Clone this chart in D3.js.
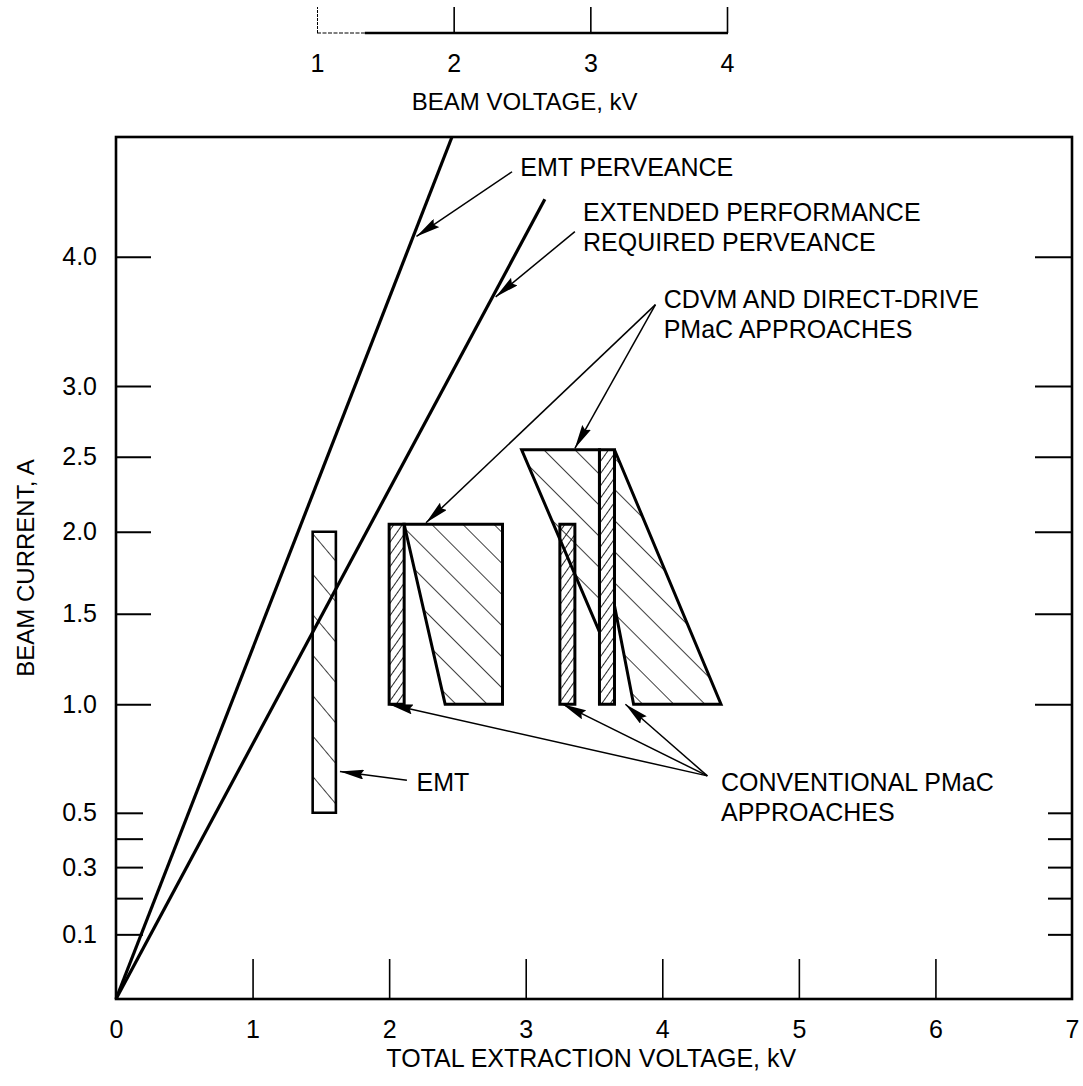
<!DOCTYPE html>
<html>
<head>
<meta charset="utf-8">
<script src="https://cdn.jsdelivr.net/npm/d3@7"></script>
<style>
  body { margin: 0; background: #fff; }
  svg { display: block; }
  text { font-family: "Liberation Sans", Arial, Helvetica, sans-serif; fill: #000; }
</style>
</head>
<body>
<svg id="chart" width="1083" height="1086"></svg>
<script>
// ---- axis definitions ----
const extractionTicks = [0, 1, 2, 3, 4, 5, 6, 7];           // total extraction voltage, kV
const beamVoltageTicks = [1, 2, 3, 4];                       // beam voltage, kV
const currentTicks = [0.1, 0.3, 0.5, 1.0, 1.5, 2.0, 2.5, 3.0, 4.0];   // beam current, A
const currentMinorTicks = [0.2, 0.4];
// the current axis is hand ruled: value stops and their fraction of the plot height
const currentStops    = [0, 0.1, 0.2, 0.3, 0.4, 0.5, 1.0, 1.5, 2.0, 2.5, 3.0, 4.0, 5.0];
const currentStopFrac = [0, 0.075, 0.117, 0.153, 0.186, 0.216, 0.342, 0.447, 0.542, 0.629, 0.711, 0.861, 1.0];

// ---- perveance lines (kV, A) ----
const emtPerveance      = [[0, 0], [2.46, 5.0]];
const extendedPerveance = [[0, 0], [3.14, 4.48]];

// ---- operating regions (kV, A) ----
const emtBand = [[1.44, 0.5], [1.61, 0.5], [1.61, 2.0], [1.44, 2.0]];
const conventionalBands = [
  [[2.00, 1.0], [2.11, 1.0], [2.11, 2.05], [2.00, 2.05]],
  [[3.25, 1.0], [3.36, 1.0], [3.36, 2.05], [3.25, 2.05]],
  [[3.54, 1.0], [3.65, 1.0], [3.65, 2.55], [3.54, 2.55]]
];
const cdvmRegions = [
  [[2.11, 2.05], [2.83, 2.05], [2.83, 1.0], [2.41, 1.0]],
  [[2.97, 2.55], [3.54, 2.55], [3.54, 1.40]],
  [[3.65, 2.55], [4.43, 1.0], [3.79, 1.0], [3.65, 1.55]]
];

// ---- annotations (kV, A) ----
const notes = [
  { lines: ["EMT PERVEANCE"], at: [2.96, 4.75], arrows: [[[2.90, 4.71], [2.20, 4.17]]] },
  { lines: ["EXTENDED PERFORMANCE", "REQUIRED PERVEANCE"], at: [3.42, 4.37],
    arrows: [[[3.36, 4.21], [2.78, 3.69]]] },
  { lines: ["CDVM AND DIRECT-DRIVE", "PMaC APPROACHES"], at: [4.01, 3.67],
    arrows: [[[3.95, 3.63], [2.27, 2.06]], [[3.95, 3.63], [3.36, 2.56]]] },
  { lines: ["EMT"], at: [2.20, 0.64], arrows: [[[2.13, 0.65], [1.64, 0.69]]] },
  { lines: ["CONVENTIONAL PMaC", "APPROACHES"], at: [4.43, 0.64],
    arrows: [[[4.33, 0.67], [2.00, 1.0]], [[4.33, 0.67], [3.27, 1.0]], [[4.33, 0.67], [3.73, 1.0]]] }
];

// ---- layout ----
const plot = { left: 116, right: 1072, top: 137, bottom: 999 };
const svg = d3.select("#chart");
const FONT = 25;

const x = d3.scaleLinear().domain([0, 7]).range([plot.left, plot.right]);
const y = d3.scaleLinear()
  .domain(currentStops)
  .range(currentStopFrac.map(f => plot.bottom - f * (plot.bottom - plot.top)));
const beam = d3.scaleLinear().domain([1, 4]).range([317, 727]);

const px = p => [x(p[0]), y(p[1])];

// hatch patterns
const defs = svg.append("defs");
function hatch(id, spacing, angle, width) {
  const p = defs.append("pattern").attr("id", id)
    .attr("patternUnits", "userSpaceOnUse")
    .attr("width", spacing).attr("height", spacing)
    .attr("patternTransform", `rotate(${angle})`);
  p.append("line").attr("x1", 0).attr("y1", 0).attr("x2", 0).attr("y2", spacing)
    .attr("stroke", "#000").attr("stroke-width", width);
}
hatch("wide", 22, -45, 1.5);
hatch("dense", 7, 35, 1.7);
hatch("emt", 26, -40, 1.5);

defs.append("marker").attr("id", "head")
  .attr("viewBox", "0 0 24 10").attr("refX", 24).attr("refY", 5)
  .attr("markerWidth", 24).attr("markerHeight", 10)
  .attr("markerUnits", "userSpaceOnUse").attr("orient", "auto")
  .append("path").attr("d", "M0,0 L24,5 L0,10 L3,5 Z").attr("fill", "#000");

// ---- frame ----
svg.append("rect")
  .attr("x", x(0)).attr("y", y(5)).attr("width", x(7) - x(0)).attr("height", y(0) - y(5))
  .attr("fill", "none").attr("stroke", "#000").attr("stroke-width", 2.6);

// bottom axis: ticks point into the plot
const xAxis = svg.append("g").attr("transform", `translate(0,${plot.bottom})`)
  .call(d3.axisBottom(x).tickValues(extractionTicks).tickSize(-40).tickSizeOuter(0)
    .tickPadding(21).tickFormat(d3.format("d")));
xAxis.select(".domain").remove();
xAxis.selectAll(".tick line").attr("stroke", "#000").attr("stroke-width", 1.6)
  .attr("display", d => (d === 0 || d === 7) ? "none" : null);
xAxis.selectAll(".tick text").style("font-size", FONT + "px").attr("font-family", null);
svg.append("text").attr("x", x(3.48)).attr("y", 1058).attr("dy", "0.35em")
  .attr("text-anchor", "middle").style("font-size", FONT + "px")
  .text("TOTAL EXTRACTION VOLTAGE, kV");

// left axis
const yAxis = svg.append("g").attr("transform", `translate(${plot.left},0)`)
  .call(d3.axisLeft(y).tickValues(currentTicks.concat(currentMinorTicks)).tickSize(-35)
    .tickSizeOuter(0).tickPadding(19).tickFormat(d => currentMinorTicks.includes(d) ? "" : d3.format(".1f")(d)));
yAxis.select(".domain").remove();
yAxis.selectAll(".tick line").attr("stroke", "#000").attr("stroke-width", 2)
  .attr("x2", d => d <= 0.5 ? 27 : 35);
yAxis.selectAll(".tick text").style("font-size", FONT + "px").attr("font-family", null);

// right-side ticks mirror the left ones
const yRight = svg.append("g").attr("transform", `translate(${plot.right},0)`)
  .call(d3.axisRight(y).tickValues(currentTicks.concat(currentMinorTicks)).tickSize(-37)
    .tickSizeOuter(0).tickFormat(""));
yRight.select(".domain").remove();
yRight.selectAll(".tick line").attr("stroke", "#000").attr("stroke-width", 2)
  .attr("x2", d => d <= 0.5 ? -24 : -37);

svg.append("text")
  .attr("transform", `translate(26,${(plot.top + plot.bottom) / 2}) rotate(-90)`)
  .attr("dy", "0.35em").attr("text-anchor", "middle").style("font-size", "24px")
  .text("BEAM CURRENT, A");

// top axis: beam voltage
const topAxis = svg.append("g").attr("transform", "translate(0,33)")
  .call(d3.axisBottom(beam).tickValues(beamVoltageTicks).tickSize(-26).tickSizeOuter(0)
    .tickPadding(21).tickFormat(d3.format("d")));
topAxis.select(".domain").remove();
topAxis.selectAll(".tick line").attr("stroke", "#000")
  .attr("stroke-width", d => d === 1 ? 1 : 1.6)
  .attr("stroke-dasharray", d => d === 1 ? "3 1" : null);
topAxis.selectAll(".tick text").style("font-size", FONT + "px").attr("font-family", null);
// the rule is faint near its left end
topAxis.append("line").attr("x1", beam(1)).attr("x2", beam(1.35))
  .attr("stroke", "#000").attr("stroke-width", 1.2).attr("stroke-dasharray", "4 1.5");
topAxis.append("line").attr("x1", beam(1.35)).attr("x2", beam(4) + 1)
  .attr("stroke", "#000").attr("stroke-width", 2.4);
svg.append("text").attr("x", beam(2.52)).attr("y", 102).attr("dy", "0.35em")
  .attr("text-anchor", "middle").style("font-size", "24px")
  .text("BEAM VOLTAGE, kV");

// ---- perveance lines ----
const line = d3.line().x(d => x(d[0])).y(d => y(d[1]));
svg.append("g").selectAll("path").data([emtPerveance, extendedPerveance]).join("path")
  .attr("d", line).attr("fill", "none").attr("stroke", "#000").attr("stroke-width", 3.2);

// ---- regions ----
const poly = d3.line().x(d => x(d[0])).y(d => y(d[1])).curve(d3.curveLinearClosed);
svg.append("g").selectAll("path").data(cdvmRegions).join("path")
  .attr("d", poly).attr("fill", "url(#wide)").attr("stroke", "#000").attr("stroke-width", 3)
  .attr("stroke-linejoin", "miter");
svg.append("path").datum(emtBand)
  .attr("d", poly).attr("fill", "url(#emt)").attr("stroke", "#000").attr("stroke-width", 2.6);
svg.append("g").selectAll("path").data(conventionalBands).join("path")
  .attr("d", poly).attr("fill", "url(#dense)").attr("stroke", "#000").attr("stroke-width", 3);

// ---- annotations ----
const ann = svg.append("g");
notes.forEach(n => {
  const [tx, ty] = px(n.at);
  n.lines.forEach((s, i) => {
    ann.append("text").attr("x", tx).attr("y", ty + i * 30).attr("dy", "0.35em")
      .style("font-size", FONT + "px").text(s);
  });
  n.arrows.forEach(a => {
    const [x1, y1] = px(a[0]), [x2, y2] = px(a[1]);
    ann.append("line").attr("x1", x1).attr("y1", y1).attr("x2", x2).attr("y2", y2)
      .attr("stroke", "#000").attr("stroke-width", 1.5).attr("marker-end", "url(#head)");
  });
});
</script>
</body>
</html>
